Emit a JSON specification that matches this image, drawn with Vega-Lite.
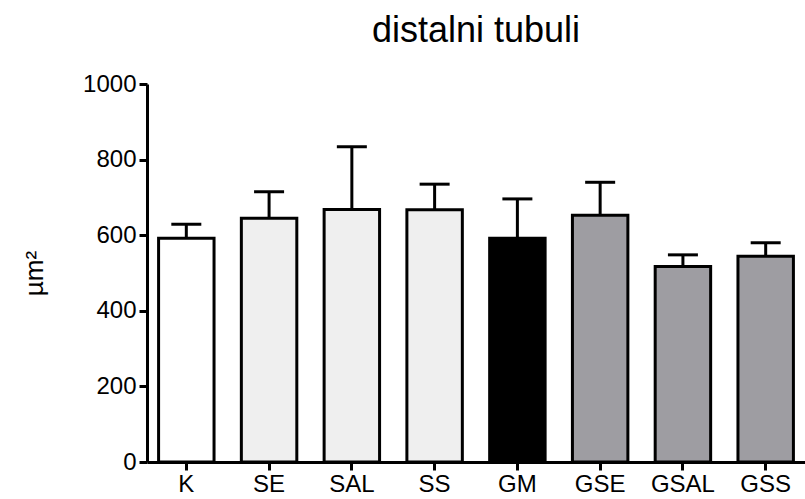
{
  "$schema": "https://vega.github.io/schema/vega-lite/v6.json",
  "autosize": "none",
  "width": 658,
  "height": 378,
  "padding": {"left": 147, "top": 84, "right": 0, "bottom": 37},
  "background": "white",
  "config": {
    "font": "Liberation Sans",
    "view": {"stroke": null},
    "axis": {"grid": false, "domainColor": "black", "tickColor": "black", "labelColor": "black", "titleColor": "black", "domainWidth": 3, "tickWidth": 3, "tickSize": 8}
  },
  "title": {"text": "distalni tubuli", "fontSize": 36, "fontWeight": "normal", "font": "Liberation Sans", "color": "black", "offset": 22, "anchor": "middle"},
  "data": {
    "values": [
      {"group": "K", "mean": 592, "upper": 629, "kind": "control"},
      {"group": "SE", "mean": 645, "upper": 715, "kind": "dotted"},
      {"group": "SAL", "mean": 668, "upper": 834, "kind": "dotted"},
      {"group": "SS", "mean": 667, "upper": 735, "kind": "dotted"},
      {"group": "GM", "mean": 592, "upper": 696, "kind": "gm"},
      {"group": "GSE", "mean": 653, "upper": 740, "kind": "gray"},
      {"group": "GSAL", "mean": 517, "upper": 548, "kind": "gray"},
      {"group": "GSS", "mean": 544, "upper": 580, "kind": "gray"}
    ]
  },
  "encoding": {
    "x": {
      "field": "group", "type": "nominal", "sort": null,
      "scale": {"paddingInner": 0.33, "paddingOuter": 0.14},
      "axis": {"title": null, "labelAngle": 0, "labelFontSize": 24, "labelPadding": 2}
    }
  },
  "layer": [
    {
      "mark": {"type": "rule", "strokeWidth": 3, "color": "black"},
      "encoding": {
        "y": {"field": "mean", "type": "quantitative"},
        "y2": {"field": "upper"}
      }
    },
    {
      "mark": {"type": "tick", "thickness": 3, "size": 30, "color": "black", "opacity": 1},
      "encoding": {
        "y": {"field": "upper", "type": "quantitative"}
      }
    },
    {
      "mark": {"type": "bar", "stroke": "black", "strokeWidth": 3, "width": {"band": 1}},
      "encoding": {
        "y": {
          "field": "mean", "type": "quantitative",
          "scale": {"domain": [0, 1000], "nice": false},
          "axis": {"title": "µm²", "titleFontSize": 26, "titleFontWeight": "normal", "titlePadding": 35, "format": "d", "values": [0, 200, 400, 600, 800, 1000], "labelFontSize": 24, "labelPadding": 3}
        },
        "fill": {
          "field": "kind", "type": "nominal",
          "scale": {"domain": ["control", "dotted", "gm", "gray"], "range": ["#ffffff", "#efefef", "#000000", "#9e9da2"]},
          "legend": null
        }
      }
    }
  ]
}
